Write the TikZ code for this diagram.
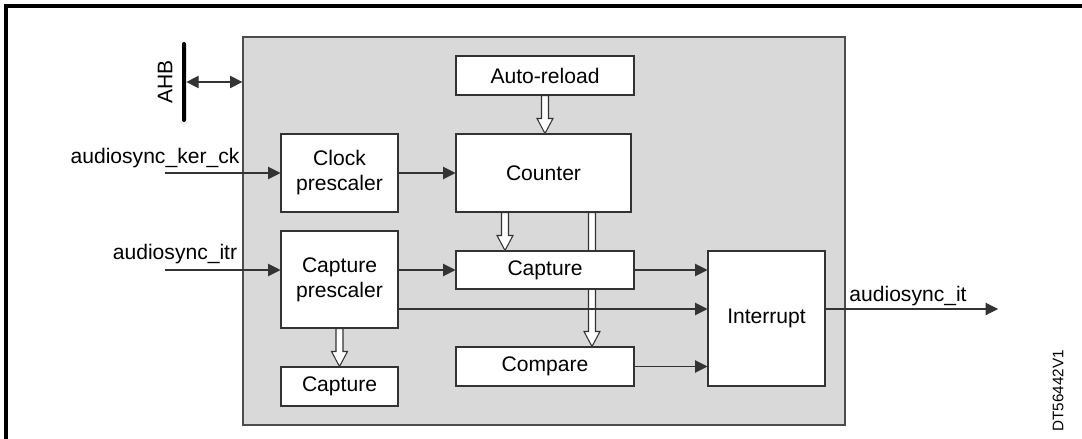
\documentclass[tikz,border=0pt]{standalone}
\usepackage{fontspec}
\setmainfont{Liberation Sans}
\usetikzlibrary{arrows.meta,calc}

% wide white arrow from #1 down to #2
\newcommand{\hollowarrow}[2]{%
  \filldraw[fill=white,draw=black!80,line width=0.6pt]
    ($(#1)+(-3.5,0)$) -- ($(#2)+(-3.5,-15)$) -- ($(#2)+(-8,-15)$) -- (#2)
    -- ($(#2)+(8,-15)$) -- ($(#2)+(3.5,-15)$) -- ($(#1)+(3.5,0)$) -- cycle;
}

\begin{document}
\begin{tikzpicture}[x=0.02cm,y=-0.02cm,
  font=\fontsize{12}{14.2}\selectfont,
  blk/.style={draw=black!80,fill=white,line width=0.6pt,inner sep=0pt,
    align=center,minimum width=2.34cm,minimum height=0.78cm},
  wide/.style={blk,minimum width=3.56cm},
  sig/.style={draw=black!80,line width=0.6pt,-{Triangle[length=7pt,width=7pt]}},
  both/.style={sig,{Triangle[length=7pt,width=7pt]}-{Triangle[length=7pt,width=7pt]}}]

\useasboundingbox (0,0) rectangle (1082,439);

% Cadre
\draw[line width=1.8pt] (6,439) -- (6,6) -- (1082,6);

% Bloc
\node[draw=black!70,fill=black!15,line width=0.8pt,inner sep=0pt,
  minimum width=12.04cm,minimum height=7.76cm] (block) at (544,231) {};

% AHB
\node[fill=black,inner sep=0pt,minimum width=0.08cm,minimum height=1.6cm,
  rounded corners=0.04cm] (ahb) at (184,82) {};
\node[rotate=90] (ahblbl) at (165,82) {AHB};
\draw[both] (ahb.east) -- (ahb.east -| block.west);

\node[blk,minimum height=1.56cm] (clk) at (339.5,173) {Clock\\prescaler};
\node[wide] (arl) at (545,75.5) {Auto-reload};
\node[wide,minimum width=3.5cm,minimum height=1.56cm] (cnt) at (543.5,173) {Counter};
\node[blk,minimum height=1.94cm] (cpsc) at (339.5,279.5) {Capture\\prescaler};
\node[blk] (cpt) at (339.5,386.5) {Capture};
\node[wide] (cmp) at (545,366.5) {Compare};
\node[blk,minimum height=2.7cm] (irq) at (766.5,318.5) {Interrupt};

% Counter -> Compare (sous Capture)
\coordinate (c1) at ([xshift=0.97cm]cnt.south);
\coordinate (c2) at (c1 |- cmp.north);
\hollowarrow{c1}{c2}

\node[wide,minimum height=0.76cm] (cap) at (545,270) {Capture};

% Flèches larges
\coordinate (a1) at (arl.south);
\coordinate (a2) at (arl.south |- cnt.north);
\hollowarrow{a1}{a2}
\coordinate (b1) at ([xshift=-0.77cm]cnt.south);
\coordinate (b2) at (b1 |- cap.north);
\hollowarrow{b1}{b2}
\coordinate (d1) at (cpsc.south);
\coordinate (d2) at (cpsc.south |- cpt.north);
\hollowarrow{d1}{d2}

% Signaux
\coordinate (kin) at (165,173);
\node (kerlbl) at (155,158) {audiosync\_ker\_ck};
\draw[sig] (kin) -- (clk.west);
\draw[sig] (clk.east) -- (cnt.west);

\coordinate (iin) at (165,270);
\node (itrlbl) at (175,254) {audiosync\_itr};
\draw[sig] (iin) -- (iin -| cpsc.west);
\draw[sig] (cpsc.east |- cap.west) -- (cap.west);
\draw[sig] (cap.east) -- (cap.east -| irq.west);
\draw[sig] ([yshift=-0.59cm]cpsc.east) -- ([yshift=-0.59cm]cpsc.east -| irq.west);
\draw[sig] (cmp.east) -- (cmp.east -| irq.west);

\coordinate (out) at (998,309);
\draw[sig] (out -| irq.east) -- (out);
\node (itlbl) at (908,296) {audiosync\_it};

\node[rotate=90,font=\fontsize{8.7}{10}\selectfont] (dtlbl) at (1058,391) {DT56442V1};

\end{tikzpicture}
\end{document}
